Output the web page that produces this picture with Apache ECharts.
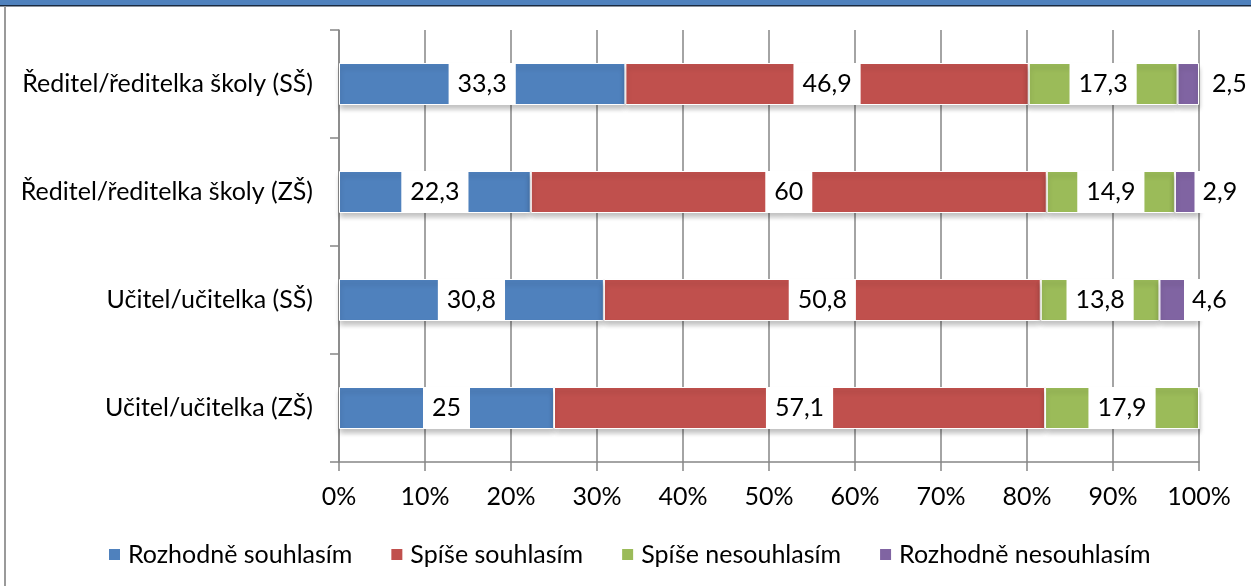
<!DOCTYPE html>
<html>
<head>
<meta charset="utf-8">
<script src="https://cdn.jsdelivr.net/npm/echarts@6/dist/echarts.min.js"></script>
<style>
  html, body { margin: 0; padding: 0; background: #fff; }
  #chart { width: 1251px; height: 586px; }
</style>
</head>
<body>
<div id="chart"></div>
<script>
(function () {
  var categories = ['Učitel/učitelka (ZŠ)', 'Učitel/učitelka (SŠ)', 'Ředitel/ředitelka školy (ZŠ)', 'Ředitel/ředitelka školy (SŠ)']
  var seriesNames = ['Rozhodně souhlasím', 'Spíše souhlasím', 'Spíše nesouhlasím', 'Rozhodně nesouhlasím']
  var rozhodneSouhlasim = [25, 30.8, 22.3, 33.3]
  var spiseSouhlasim = [57.1, 50.8, 60, 46.9]
  var spiseNesouhlasim = [17.9, 13.8, 14.9, 17.3]
  var rozhodneNesouhlasim = [0, 4.6, 2.9, 2.5]
  var xTicks = ['0%', '10%', '20%', '30%', '40%', '50%', '60%', '70%', '80%', '90%', '100%']
  var colors = ['#4F81BD', '#C0504D', '#9BBB59', '#8064A2']

  var font = 'Lato, "Open Sans", sans-serif'
  var myChart = echarts.init(document.getElementById('chart'))

  function fmt (v) {
    return String(v).replace('.', ',')
  }

  var labelBox = {
    show: true,
    color: '#000',
    fontFamily: font,
    fontSize: 25,
    lineHeight: 24,
    backgroundColor: '#fff',
    padding: [9, 9],
    formatter: function (p) { return p.value ? fmt(p.value) : '' }
  }

  function makeSeries (name, data, i) {
    return {
      name: name,
      type: 'bar',
      stack: 'total',
      barWidth: 42,
      data: data,
      itemStyle: {
        color: colors[i],
        borderColor: '#fff',
        borderWidth: 1,
        shadowColor: 'rgba(0,0,0,0.25)',
        shadowBlur: 5,
        shadowOffsetY: 4
      },
      label: Object.assign({}, labelBox, { position: 'inside' })
    }
  }

  var series = [
    makeSeries(seriesNames[0], rozhodneSouhlasim, 0),
    makeSeries(seriesNames[1], spiseSouhlasim, 1),
    makeSeries(seriesNames[2], spiseNesouhlasim, 2),
    makeSeries(seriesNames[3], rozhodneNesouhlasim, 3)
  ]
  // small purple values: label pushed past the bar end like Excel does
  series[3].label = Object.assign({}, labelBox, { position: 'right', distance: 0, padding: [9, 8] })
  series[3].data = rozhodneNesouhlasim.map(function (v, i) {
    if (i === 1) return { value: v, label: { offset: [-15, 0] } }
    if (i === 2) return { value: v, label: { offset: [-5, 0] } }
    return { value: v, label: { offset: [5, 0] } }
  })

  var option = {
    animation: false,
    color: colors,
    grid: { left: 339, right: 52, top: 30, bottom: 124 },
    legend: {
      top: 537,
      left: 102,
      itemWidth: 13,
      itemHeight: 13,
      itemGap: 37,
      icon: 'rect',
      textStyle: { fontFamily: font, fontSize: 25, color: '#000', padding: [0, 0, 0, 2] },
      data: seriesNames
    },
    xAxis: {
      type: 'value',
      min: 0,
      max: 100,
      interval: 10,
      axisLine: { show: true, lineStyle: { color: '#868686', width: 1.5 } },
      axisTick: { show: true, length: 9, inside: false, lineStyle: { color: '#868686', width: 1.5 } },
      splitLine: { show: true, lineStyle: { color: '#868686', width: 1.5 } },
      axisLabel: {
        margin: 22,
        fontFamily: font,
        fontSize: 25,
        color: '#000',
        formatter: function (v) { return xTicks[Math.round(v / 10)] }
      }
    },
    yAxis: {
      type: 'category',
      data: categories,
      axisLine: { show: true, lineStyle: { color: '#868686', width: 1.5 } },
      axisTick: { show: true, length: 9, lineStyle: { color: '#868686', width: 1.5 } },
      axisLabel: { margin: 26, fontFamily: font, fontSize: 25, color: '#000' }
    },
    graphic: [
      { type: 'rect', shape: { x: 0, y: 0, width: 1251, height: 5 }, style: { fill: '#4F81BD' }, z: 10 },
      { type: 'rect', shape: { x: 0, y: 5, width: 1251, height: 1.5 }, style: { fill: '#1a2a40' }, z: 10 },
      { type: 'rect', shape: { x: 4, y: 6, width: 2, height: 580 }, style: { fill: '#9a9a9a' }, z: 10 }
    ],
    series: series
  }
  myChart.setOption(option)
})()
</script>
</body>
</html>
